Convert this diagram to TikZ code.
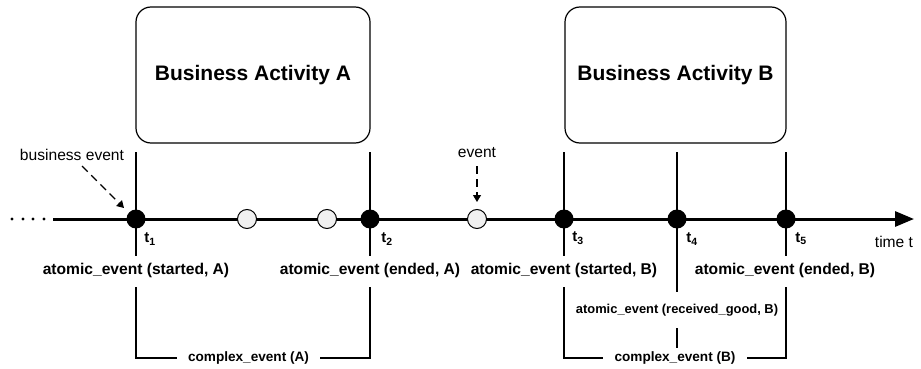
\documentclass[tikz,border=0pt]{standalone}
\usepackage{fontspec}
\setmainfont{Liberation Sans}
\usetikzlibrary{arrows.meta}
\begin{document}
\begin{tikzpicture}[x=1pt,y=-1pt,
  act/.style={draw, line width=1.2pt, rounded corners=15pt, minimum width=#1, minimum height=136pt, inner sep=0pt, font=\fontsize{21}{25}\selectfont\bfseries},
  hit/.style={circle, fill=black, minimum size=19pt, inner sep=0pt},
  plainevt/.style={circle, draw, line width=1pt, fill=gray!12, minimum size=19pt, inner sep=0pt},
  tlab/.style={font=\fontsize{15}{18}\selectfont\bfseries, inner sep=0pt},
  alab/.style={font=\fontsize{15.6}{18}\selectfont\bfseries, inner sep=0pt},
  rlab/.style={font=\fontsize{12.9}{15}\selectfont\bfseries, inner sep=0pt},
  clab/.style={font=\fontsize{13.6}{16}\selectfont\bfseries, inner sep=0pt},
  note/.style={font=\fontsize{15.6}{18}\selectfont, inner sep=0pt},
  vline/.style={line width=1.2pt},
  dasharrow/.style={line width=1.1pt, dash pattern=on 8pt off 5pt, -{Triangle[length=7pt,width=8pt]}},
]
\useasboundingbox (0,0) rectangle (921,369);

% activity boxes
\node[act=234pt] (bA) at (253,75) {Business Activity A};
\node[act=221pt] (bB) at (675.5,75) {Business Activity B};

% time line
\coordinate (tl0) at (53,219);
\coordinate (tl1) at (914,219);
\draw[line width=3pt, -{Triangle[length=19pt,width=15pt]}] (tl0) -- (tl1);
\foreach \x in {12,23,33,44} \fill (\x,219) circle (1.7pt);

% events
\node[hit] (t1) at (136,219) {};
\node[plainevt] (o1) at (247,219) {};
\node[plainevt] (o2) at (327,219) {};
\node[hit] (t2) at (370,219) {};
\node[plainevt] (o3) at (477,219) {};
\node[hit] (t3) at (564,219) {};
\node[hit] (t4) at (677,219) {};
\node[hit] (t5) at (786,219) {};

% time labels
\node[tlab] (l1) at (150,239) {t\textsubscript{1}};
\node[tlab] (l2) at (387,239) {t\textsubscript{2}};
\node[tlab] (l3) at (578,238) {t\textsubscript{3}};
\node[tlab] (l4) at (692,239) {t\textsubscript{4}};
\node[tlab] (l5) at (801,239) {t\textsubscript{5}};
\node[note] (tt) at (894,242) {time t};

% annotations
\node[note] (be) at (72,155) {business event};
\coordinate (ba0) at (82,166);
\coordinate (ba1) at (124,208);
\draw[dasharrow] (ba0) -- (ba1);
\node[note] (ev) at (477,153) {event};
\coordinate (ea0) at (477,166);
\coordinate (ea1) at (477,202);
\draw[dasharrow] (ea0) -- (ea1);

% atomic event labels
\node[alab] (a1) at (136,270) {atomic\_event (started, A)};
\node[alab] (a2) at (370,270) {atomic\_event (ended, A)};
\node[alab] (a3) at (564,270) {atomic\_event (started, B)};
\node[alab] (a5) at (785,270) {atomic\_event (ended, B)};
\node[rlab] (a4) at (677,310) {atomic\_event (received\_good, B)};
\node[clab] (cA) at (248.5,358) {complex\_event (A)};
\node[clab] (cB) at (675,358) {complex\_event (B)};

% vertical line coordinates
\coordinate (u1) at (136,152); \coordinate (d1) at (136,256);
\coordinate (e1) at (136,287); \coordinate (c1) at (136,358); \coordinate (h1) at (177,358);
\coordinate (u2) at (370,152); \coordinate (d2) at (370,256);
\coordinate (e2) at (370,287); \coordinate (c2) at (370,358); \coordinate (h2) at (320,358);
\coordinate (u3) at (564,152); \coordinate (d3) at (564,256);
\coordinate (e3) at (564,287); \coordinate (c3) at (564,358); \coordinate (h3) at (603,358);
\coordinate (u4) at (677,152); \coordinate (d4) at (677,292);
\coordinate (e4) at (677,328); \coordinate (f4) at (677,348);
\coordinate (u5) at (786,152); \coordinate (d5) at (786,256);
\coordinate (e5) at (786,287); \coordinate (c5) at (786,358); \coordinate (h5) at (747,358);

\draw[vline] (u1) -- (t1.center) -- (d1);
\draw[vline] (e1) -- (c1) -- (h1);
\draw[vline] (u2) -- (t2.center) -- (d2);
\draw[vline] (e2) -- (c2) -- (h2);
\draw[vline] (u3) -- (t3.center) -- (d3);
\draw[vline] (e3) -- (c3) -- (h3);
\draw[vline] (u4) -- (t4.center) -- (d4);
\draw[vline] (e4) -- (f4);
\draw[vline] (u5) -- (t5.center) -- (d5);
\draw[vline] (e5) -- (c5) -- (h5);
\end{tikzpicture}
\end{document}
